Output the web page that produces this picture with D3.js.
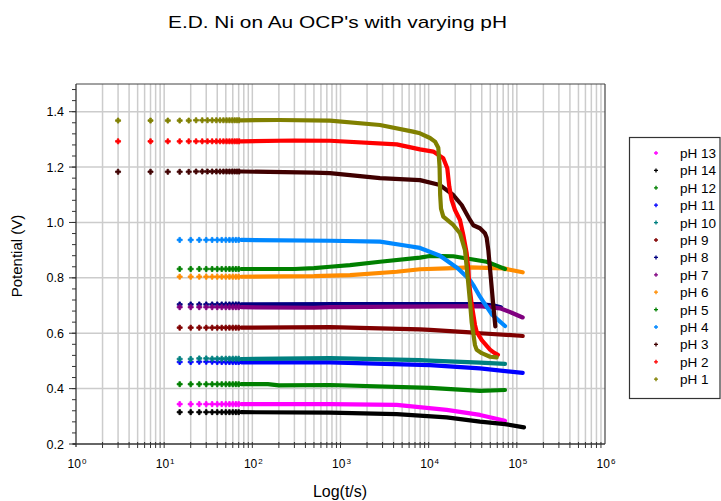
<!DOCTYPE html>
<html><head><meta charset="utf-8">
<script src="https://cdn.jsdelivr.net/npm/d3@7"></script>
<style>body{margin:0;background:#fff}svg{display:block}text{font-family:"Liberation Sans",Arial,sans-serif;fill:#000}</style>
</head><body><svg id="c" width="721" height="501"></svg>
<script>
// ---------- data ----------
const seriesNames  = ["pH 13","pH 14","pH 12","pH 11","pH 10","pH 9","pH 8","pH 7","pH 6","pH 5","pH 4","pH 3","pH 2","pH 1"];
const seriesColors = ["#FF00FF","#000000","#008000","#0000FF","#008080","#800000","#000080","#800080","#FF8C00","#008000","#0088FF","#400000","#FF0000","#808000"];

// sparse early sample times (s)
const tEarlyA = [3,7,11,15,19,23,27,31,35,39,43,47,51,55,59,63,67,71];
const tEarlyB = [15,20,25,30,35,40,45,50,55,60,65,70];

// early sample potentials (V)
const ph13Early = [0.344,0.344,0.344,0.344,0.344,0.344,0.344,0.344,0.344,0.344,0.344,0.344];
const ph14Early = [0.315,0.315,0.315,0.315,0.315,0.315,0.315,0.315,0.315,0.315,0.315,0.315];
const ph12Early = [0.416,0.416,0.416,0.416,0.416,0.416,0.416,0.416,0.416,0.416,0.416,0.416];
const ph11Early = [0.496,0.496,0.497,0.497,0.497,0.496,0.496,0.496,0.496,0.496,0.496,0.496];
const ph10Early = [0.507,0.507,0.509,0.509,0.508,0.508,0.508,0.508,0.508,0.508,0.508,0.508];
const ph9Early  = [0.620,0.620,0.620,0.620,0.620,0.620,0.620,0.620,0.620,0.620,0.620,0.620];
const ph8Early  = [0.704,0.704,0.704,0.704,0.704,0.704,0.704,0.704,0.704,0.704,0.704,0.704];
const ph7Early  = [0.694,0.694,0.694,0.694,0.694,0.694,0.694,0.694,0.694,0.694,0.694,0.694];
const ph6Early  = [0.804,0.804,0.804,0.804,0.804,0.804,0.804,0.804,0.804,0.804,0.804,0.804];
const ph5Early  = [0.832,0.832,0.832,0.832,0.832,0.832,0.832,0.832,0.832,0.832,0.832,0.832];
const ph4Early  = [0.937,0.937,0.937,0.937,0.937,0.937,0.937,0.937,0.937,0.937,0.937,0.937];
const ph3Early  = [1.183,1.183,1.183,1.183,1.183,1.184,1.184,1.184,1.184,1.184,1.184,1.184,1.184,1.184,1.184,1.184,1.184,1.184];
const ph2Early  = [1.293,1.293,1.293,1.293,1.293,1.293,1.293,1.293,1.293,1.293,1.293,1.293,1.293,1.293,1.293,1.293,1.293,1.293];
const ph1Early  = [1.368,1.368,1.368,1.368,1.368,1.369,1.369,1.369,1.369,1.369,1.369,1.369,1.369,1.369,1.369,1.369,1.369,1.369];

// densely sampled part: [time (s), potential (V)]
const ph13Curve = [[75,0.344],[760,0.344],[4340,0.341],[16000,0.323],[38200,0.305],[73400,0.284]];
const ph14Curve = [[75,0.315],[760,0.313],[4340,0.308],[16000,0.296],[38200,0.281],[73400,0.272],[120500,0.260]];
const ph12Curve = [[75,0.416],[150,0.416],[200,0.412],[760,0.413],[10350,0.403],[38200,0.392],[73400,0.395]];
const ph11Curve = [[75,0.495],[760,0.495],[10350,0.485],[38200,0.473],[116500,0.457]];
const ph10Curve = [[75,0.507],[760,0.510],[7970,0.503],[10350,0.501],[38200,0.494],[73400,0.489]];
const ph9Curve  = [[75,0.620],[760,0.622],[7970,0.614],[10350,0.612],[29410,0.603],[38200,0.600],[108700,0.591],[116500,0.590]];
const ph8Curve  = [[75,0.704],[1000,0.705],[38200,0.705],[55000,0.700],[66000,0.694]];
const ph7Curve  = [[75,0.694],[500,0.692],[760,0.694],[38200,0.698],[64460,0.690],[87400,0.674],[116500,0.657]];
const ph6Curve  = [[75,0.804],[500,0.806],[1282,0.810],[4340,0.822],[7970,0.831],[16000,0.834],[29410,0.838],[70200,0.834],[108700,0.822],[116500,0.820]];
const ph5Curve  = [[75,0.832],[300,0.832],[500,0.835],[760,0.840],[1282,0.846],[2805,0.858],[7970,0.873],[10350,0.879],[19020,0.878],[29410,0.868],[45500,0.858],[59100,0.844],[73400,0.832]];
const ph4Curve  = [[75,0.937],[760,0.934],[2805,0.931],[5630,0.916],[7970,0.908],[13440,0.880],[21500,0.834],[29410,0.792],[32060,0.774],[38200,0.732],[41610,0.714],[52000,0.668],[73400,0.626]];
const ph3Curve  = [[75,1.184],[500,1.180],[760,1.178],[2805,1.160],[7970,1.153],[13440,1.135],[19020,1.099],[23680,1.063],[29410,1.009],[32060,0.990],[38200,0.979],[43500,0.961],[45500,0.945],[47500,0.900],[49600,0.834],[53600,0.714],[57000,0.625]];
const ph2Curve  = [[75,1.293],[300,1.296],[760,1.295],[4340,1.282],[7970,1.264],[11280,1.256],[14650,1.232],[16260,1.196],[17130,1.130],[18240,1.081],[19880,1.045],[22660,1.009],[24700,0.955],[26980,0.889],[28130,0.834],[28800,0.780],[30740,0.705],[33520,0.630],[35050,0.605],[40000,0.575],[49600,0.541],[55000,0.530],[61000,0.522]];
const ph1Curve  = [[75,1.369],[200,1.370],[760,1.368],[2805,1.352],[6640,1.328],[7970,1.322],[10350,1.305],[11800,1.292],[12860,1.270],[13300,1.200],[13500,1.100],[13800,1.050],[14650,1.021],[19020,0.991],[22660,0.961],[25820,0.900],[26980,0.840],[28130,0.780],[29410,0.714],[30740,0.640],[32060,0.600],[33520,0.557],[35050,0.540],[39940,0.528],[49600,0.515],[59100,0.513]];

const earlyValues = [ph13Early,ph14Early,ph12Early,ph11Early,ph10Early,ph9Early,ph8Early,ph7Early,ph6Early,ph5Early,ph4Early,ph3Early,ph2Early,ph1Early];
const curveValues = [ph13Curve,ph14Curve,ph12Curve,ph11Curve,ph10Curve,ph9Curve,ph8Curve,ph7Curve,ph6Curve,ph5Curve,ph4Curve,ph3Curve,ph2Curve,ph1Curve];
const earlyTimes  = [tEarlyB,tEarlyB,tEarlyB,tEarlyB,tEarlyB,tEarlyB,tEarlyB,tEarlyB,tEarlyB,tEarlyB,tEarlyB,tEarlyA,tEarlyA,tEarlyA];

const yTickValues = [0.2,0.4,0.6,0.8,1.0,1.2,1.4];
const xTickExponents = ["0","1","2","3","4","5","6"];
const titleText = "E.D. Ni on Au OCP's with varying pH";
const xLabel = "Log(t/s)";
const yLabel = "Potential (V)";

// ---------- layout ----------
const svg = d3.select("#c");
const L = 76, R = 605, T = 84, B = 444;
const x = d3.scaleLog().domain([1, 1e6]).range([L, R]);
const y = d3.scaleLinear().domain([0.2, 1.5]).range([B, T]);

// grid
const minorX = [];
for (let e = 0; e < 6; e++) for (let k = 1; k <= 9; k++) minorX.push(k * Math.pow(10, e));
svg.append("g").selectAll("line").data(minorX.filter(v => v > 1)).join("line")
  .attr("x1", d => x(d)).attr("x2", d => x(d)).attr("y1", T).attr("y2", B)
  .attr("stroke", "#cccccc").attr("stroke-width", 1.5);
svg.append("g").selectAll("line").data(yTickValues.filter(v => v > 0.2)).join("line")
  .attr("x1", L).attr("x2", R).attr("y1", d => y(d)).attr("y2", d => y(d))
  .attr("stroke", "#cccccc").attr("stroke-width", 1.5);

// frame
svg.append("line").attr("x1", L).attr("x2", R).attr("y1", T).attr("y2", T).attr("stroke", "#444").attr("stroke-width", 1);
svg.append("line").attr("x1", R).attr("x2", R).attr("y1", T).attr("y2", B).attr("stroke", "#444").attr("stroke-width", 1.2);

// series
const sym = d3.symbol().type(d3.symbolCross).size(14);
const line = d3.line().x(d => x(d[0])).y(d => y(d[1]));
seriesNames.forEach((name, i) => {
  const g = svg.append("g");
  g.append("path").datum(curveValues[i]).attr("d", line)
    .attr("fill", "none").attr("stroke", seriesColors[i]).attr("stroke-width", 4.2)
    .attr("stroke-linejoin", "round").attr("stroke-linecap", "round");
  const pts = earlyTimes[i].map((t, j) => [t, earlyValues[i][j]]);
  g.selectAll("path.m").data(pts).join("path").attr("class", "m")
    .attr("d", sym).attr("transform", d => `translate(${x(d[0])},${y(d[1])})`)
    .attr("fill", seriesColors[i]).attr("stroke", seriesColors[i]).attr("stroke-width", 0.8)
    .attr("stroke-linejoin", "round");
});

// axes
const yMinor = d3.range(0, 33).map(k => +(0.2 + k * 0.04).toFixed(2));
const ax = svg.append("g");
ax.append("line").attr("x1", L).attr("x2", L).attr("y1", T).attr("y2", B + 3).attr("stroke", "#333").attr("stroke-width", 1.3);
ax.append("line").attr("x1", L - 3).attr("x2", R).attr("y1", B).attr("y2", B).attr("stroke", "#333").attr("stroke-width", 1.3);
ax.selectAll("line.ym").data(yMinor).join("line").attr("class", "ym")
  .attr("x1", L - 4).attr("x2", L).attr("y1", d => y(d)).attr("y2", d => y(d)).attr("stroke", "#333");
ax.selectAll("line.yM").data(yTickValues).join("line").attr("class", "yM")
  .attr("x1", L - 7).attr("x2", L).attr("y1", d => y(d)).attr("y2", d => y(d)).attr("stroke", "#333");
ax.selectAll("text.yl").data(yTickValues).join("text").attr("class", "yl")
  .attr("x", L - 12).attr("y", d => y(d) + 4.5).attr("text-anchor", "end").attr("font-size", 12.5)
  .text(d => d3.format(".1f")(d));
ax.selectAll("line.xm").data(minorX.filter(v => v > 1)).join("line").attr("class", "xm")
  .attr("x1", d => x(d)).attr("x2", d => x(d)).attr("y1", B - 2).attr("y2", B + 4).attr("stroke", "#333");
const xt = ax.selectAll("text.xl").data(xTickExponents).join("text").attr("class", "xl")
  .attr("x", (d, i) => x(Math.pow(10, i)) + 1).attr("y", 468).attr("text-anchor", "middle").attr("font-size", 12);
xt.append("tspan").text("10");
xt.append("tspan").attr("font-size", 8).attr("dy", -4).attr("dx", 1).text(d => d);

// titles
svg.append("text").attr("x", 168).attr("y", 28).attr("font-size", 17)
  .attr("textLength", 339).attr("lengthAdjust", "spacingAndGlyphs").text(titleText);
svg.append("text").attr("x", 340).attr("y", 497).attr("text-anchor", "middle").attr("font-size", 16)
  .text(xLabel);
svg.append("text").attr("transform", "translate(22,256) rotate(-90)").attr("text-anchor", "middle")
  .attr("font-size", 15).text(yLabel);

// legend
const lg = svg.append("g");
lg.append("rect").attr("x", 629.5).attr("y", 137.5).attr("width", 90.5).attr("height", 261)
  .attr("fill", "#fff").attr("stroke", "#333").attr("stroke-width", 1.2);
const ly = i => 153 + i * 17.4;
lg.selectAll("path").data(seriesNames).join("path")
  .attr("d", d3.symbol().type(d3.symbolCross).size(9))
  .attr("transform", (d, i) => `translate(656,${ly(i)})`)
  .attr("fill", (d, i) => seriesColors[i]);
lg.selectAll("text").data(seriesNames).join("text")
  .attr("x", 680).attr("y", (d, i) => ly(i) + 5).attr("font-size", 13.5).text(d => d);
</script></body></html>
